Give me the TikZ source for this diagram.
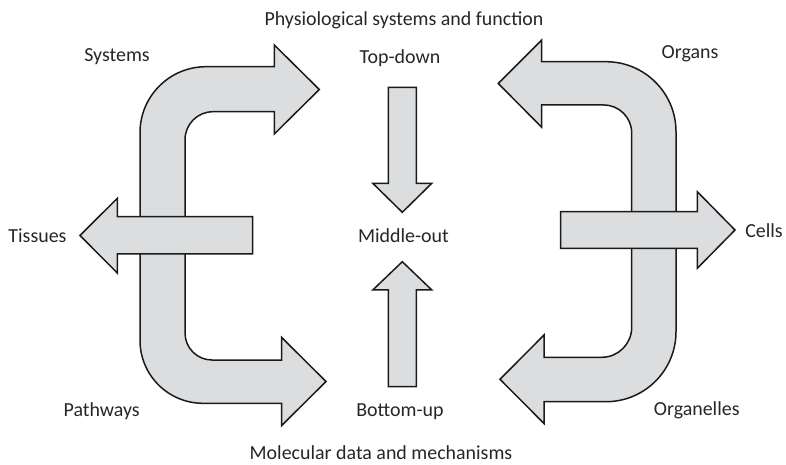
\documentclass[tikz,border=0pt]{standalone}
\usepackage{fontspec}
\setmainfont{Carlito}
\definecolor{arrowfill}{RGB}{220,221,223}
\definecolor{arrowline}{RGB}{26,26,26}
\begin{document}
\begin{tikzpicture}[x=1bp,y=-1bp,
  blockarrow/.style={draw=arrowline,fill=arrowfill,line width=1.5bp,line join=miter},
  lbl/.style={inner sep=0pt,font=\fontsize{20}{24}\selectfont,text=black!85}]
\useasboundingbox (0,0) rectangle (786,465);

% left bracket: Systems (top) and Pathways (bottom) bent arrows
\draw[blockarrow] (140,132.7) arc[start angle=180,end angle=270,radius=66]
  -- (274.3,66.7) -- (274.3,45) -- (319.3,89.5) -- (274.3,134) -- (274.3,111.7)
  -- (213,111.7) arc[start angle=270,end angle=180,radius=28]
  -- (185,333) arc[start angle=180,end angle=90,radius=27]
  -- (281.7,360) -- (281.7,337.5) -- (326,381.5) -- (281.7,425.5) -- (281.7,403.3)
  -- (203,403.3) arc[start angle=90,end angle=180,radius=63] -- cycle;

% Tissues arrow crossing the left bracket
\draw[blockarrow] (252.7,216.7) -- (117.3,216.7) -- (117.3,198.3) -- (80,235.5)
  -- (117.3,273) -- (117.3,254) -- (252.7,254) -- cycle;

% right bracket: Organs (top) and Organelles (bottom) bent arrows
\draw[blockarrow] (498.3,83.5) -- (541.7,40) -- (541.7,61.7) -- (606,61.7)
  arc[start angle=270,end angle=360,radius=70]
  -- (676,331.7) arc[start angle=0,end angle=90,radius=70]
  -- (544,401.7) -- (544,423.5) -- (500,379.3) -- (544,335) -- (544,357.3)
  -- (601.7,357.3) arc[start angle=90,end angle=0,radius=30]
  -- (631.7,133) arc[start angle=0,end angle=-90,radius=28]
  -- (541.7,105) -- (541.7,127.3) -- cycle;

% Cells arrow crossing the right bracket
\draw[blockarrow] (560.7,211.7) -- (697.3,211.7) -- (697.3,191.7) -- (735,230)
  -- (697.3,268.3) -- (697.3,248.3) -- (560.7,248.3) -- cycle;

% central top-down and bottom-up arrows
\draw[blockarrow] (388.3,87.3) -- (416.3,87.3) -- (416.3,183.3) -- (431.8,183.3)
  -- (402.3,212.3) -- (372.8,183.3) -- (388.3,183.3) -- cycle;
\draw[blockarrow] (388.3,386.7) -- (416.3,386.7) -- (416.3,290) -- (431.8,290)
  -- (402.3,261.7) -- (372.8,290) -- (388.3,290) -- cycle;

% labels
\node[lbl] (phys) at (404,20) {Physiological systems and function};
\node[lbl] (topdown) at (400,58) {Top-down};
\node[lbl] (middle) at (403.5,236) {Middle-out};
\node[lbl] (bottomup) at (400,412) {Bottom-up};
\node[lbl] (molec) at (381,453) {Molecular data and mechanisms};
\node[lbl] (systems) at (117,57) {Systems};
\node[lbl] (tissues) at (37.5,236) {Tissues};
\node[lbl] (pathways) at (101.7,411) {Pathways};
\node[lbl] (organs) at (690,54) {Organs};
\node[lbl] (cells) at (764,231) {Cells};
\node[lbl] (organelles) at (696.7,410) {Organelles};
\end{tikzpicture}
\end{document}
